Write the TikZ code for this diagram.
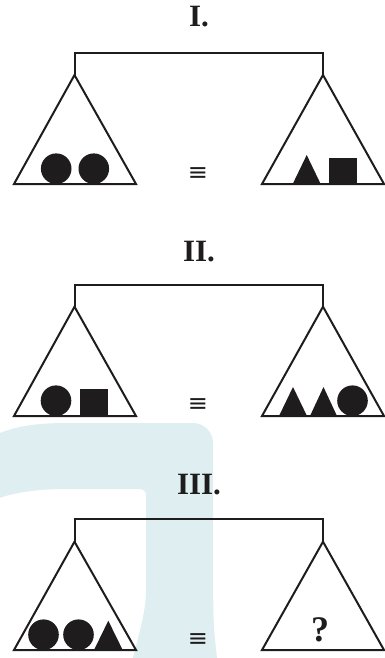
\documentclass[tikz,border=0pt]{standalone}
\usepackage{fontspec}
\setmainfont{Liberation Serif}
\newfontfamily\symfont{DejaVu Sans}
\definecolor{wmark}{RGB}{223,239,241}
\definecolor{ink}{RGB}{30,28,29}
\tikzset{
  beam/.style={draw=ink, line width=2pt, line join=miter},
  solid shape/.style={fill=ink, draw=none},
  title/.style={font=\fontsize{31}{31}\selectfont\bfseries, text=ink, anchor=base, inner sep=0pt},
  eqsign/.style={font=\symfont\fontsize{24}{24}\selectfont, text=ink, inner sep=0pt},
  qmark/.style={font=\fontsize{36}{36}\selectfont\bfseries, text=ink, anchor=base, inner sep=0pt}
}
\begin{document}
\begin{tikzpicture}[x=1pt,y=-1pt]
\useasboundingbox (0,0) rectangle (385,658);
% watermark
\fill[wmark] (0,433) .. controls (20,425) and (40,423) .. (70,423)
  [rounded corners=20pt] -- (213,423) -- (213,600) [sharp corners]
  .. controls (214,630) .. (217,658) -- (133,658)
  .. controls (140,630) and (146,610) .. (146,590)
  [rounded corners=6pt] -- (146,489) -- (60,489) [sharp corners]
  .. controls (30,490) and (10,494) .. (0,498) -- cycle;

% ---------- Panel I ----------
\node[title] (t1) at (199,27) {I.};
\draw[beam] (14,184) -- (74.5,75) -- (136,184) -- cycle;
\draw[beam] (74.5,75) -- (74.5,53) -- (323,53) -- (323,75);
\draw[beam] (262,184) -- (323,75) -- (384,184) -- cycle;
\fill[solid shape] (56.2,168.7) circle[radius=15.3];
\fill[solid shape] (93.8,168.7) circle[radius=15.3];
\fill[solid shape] (292.7,184) -- (306.7,155) -- (320.7,184) -- cycle;
\fill[solid shape] (329,158) rectangle (356.7,184);
\node[eqsign] (e1) at (198,174) {≡};

% ---------- Panel II ----------
\node[title] (t2) at (199,261) {II.};
\draw[beam] (14,416) -- (74.5,306.7) -- (136,416) -- cycle;
\draw[beam] (74.5,306.7) -- (74.5,285) -- (323,285) -- (323,306.7);
\draw[beam] (262,416) -- (323,306.7) -- (384,416) -- cycle;
\fill[solid shape] (56,400.7) circle[radius=15.3];
\fill[solid shape] (80,389.3) rectangle (108,416);
\fill[solid shape] (279,416) -- (293,387) -- (307,416) -- cycle;
\fill[solid shape] (310,416) -- (323.5,387) -- (337,416) -- cycle;
\fill[solid shape] (352.5,400.7) circle[radius=15.3];
\node[eqsign] (e2) at (198,405.5) {≡};

% ---------- Panel III ----------
\node[title] (t3) at (199,494) {III.};
\draw[beam] (14,650) -- (74.5,541.7) -- (136,650) -- cycle;
\draw[beam] (74.5,541.7) -- (74.5,519) -- (323,519) -- (323,541.7);
\draw[beam] (262,650) -- (323,541.7) -- (384,650) -- cycle;
\fill[solid shape] (43.5,634.7) circle[radius=15.3];
\fill[solid shape] (78.5,634.7) circle[radius=15.3];
\fill[solid shape] (94,650) -- (108.3,620.7) -- (122.7,650) -- cycle;
\node[eqsign] (e3) at (198,640.5) {≡};
\node[qmark] (q) at (320,641.7) {?};
\end{tikzpicture}
\end{document}
